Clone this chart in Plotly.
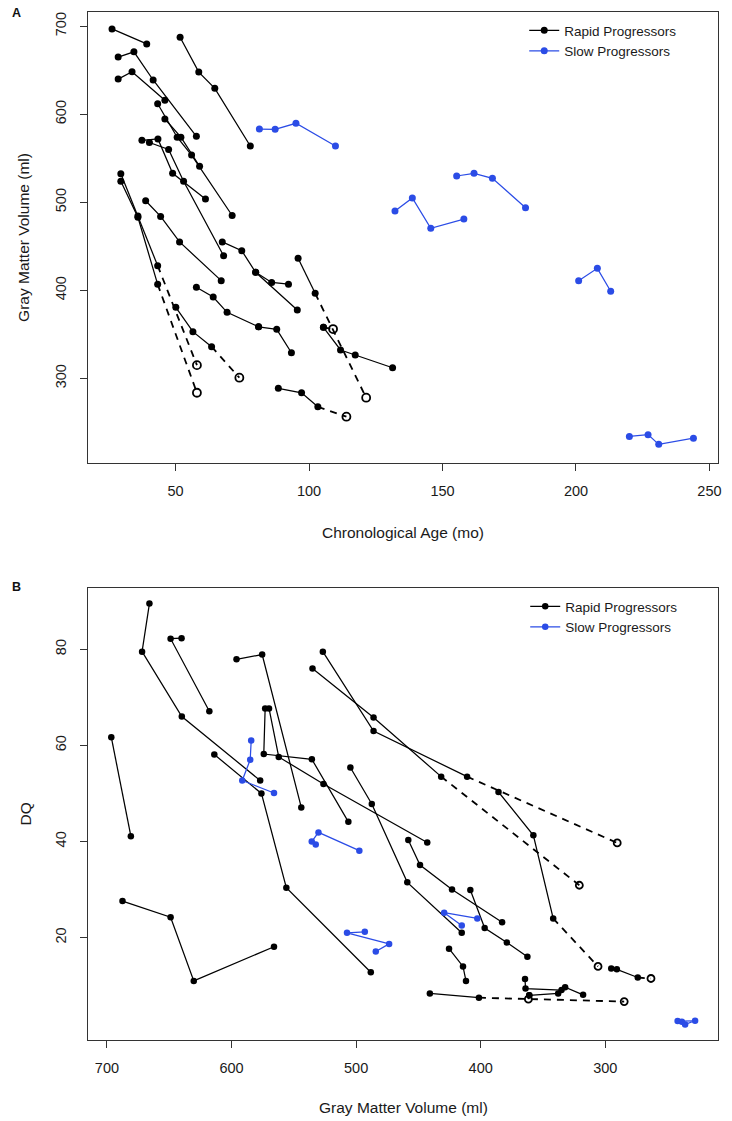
import plotly.graph_objects as go

# ---------------- Panel A : GMV vs chronological age ----------------
a_rapid_age = [
    [26.2, 39.2],
    [51.7, 58.7, 64.7, 78.0],
    [28.5, 34.4, 41.6, 57.8],
    [28.5, 33.7, 46.0],
    [46.0, 52.0, 59.0],
    [37.4, 43.4, 48.9, 61.2],
    [40.2, 47.4, 53.0, 68.0],
    [43.3, 50.6, 56.0, 71.2],
    [29.5, 35.9, 43.3],
    [29.5, 35.9, 43.3],
    [50.1, 56.5, 63.5],
    [95.9, 102.3],
    [88.5, 97.2, 103.3],
    [105.4],
    [38.8, 44.4, 51.5, 67.1],
    [67.5, 74.8, 80.0, 95.6],
    [57.8, 64.1, 69.3, 81.1],
    [80.0, 86.0, 92.3],
    [81.1, 87.9, 93.4],
    [105.4, 111.8, 117.3, 131.3],
]
a_rapid_gmv = [
    [697, 680],
    [687.5, 648, 629.5, 564],
    [665, 671, 639, 575],
    [640, 648.4, 616],
    [594.7, 574, 541],
    [570.5, 572, 533, 503.8],
    [568, 560, 524, 439.3],
    [612, 574, 553.7, 485],
    [524, 483, 406.8],
    [532.5, 484.5, 428],
    [380.7, 353, 336],
    [436.4, 396.6],
    [288.6, 283.6, 267.7],
    [358],
    [501.8, 484, 455, 411],
    [455, 445, 420.5, 377.6],
    [403.4, 392.4, 375, 358.6],
    [420.5, 409, 407],
    [358.6, 355.7, 329.1],
    [358, 332.2, 326.5, 312],
]
# imputed final visits (open circles, dashed)
a_imp_subject = [8, 9, 10, 11, 12, 13]
a_imp_age = [58.0, 58.0, 73.9, 121.4, 114.0, 109.0]
a_imp_gmv = [283.6, 315.0, 300.7, 278.0, 256.4, 356.0]

a_slow_age = [
    [81.4, 87.3, 95.1, 109.9],
    [132.2, 138.7, 145.6, 158.0],
    [155.3, 161.8, 168.7, 181.1],
    [201.0, 208.0, 213.0],
    [220.0, 227.0, 231.0, 244.0],
]
a_slow_gmv = [
    [583.3, 583.0, 589.8, 564.0],
    [490.0, 504.9, 470.5, 481.0],
    [529.9, 533.0, 527.3, 493.9],
    [411.0, 425.0, 399.0],
    [234.0, 236.0, 225.0, 232.0],
]

# ---------------- Panel B : DQ vs GMV ----------------
b_rapid_gmv = [
    [665.9, 671.8, 639.9, 577.0],
    [640.1, 648.9, 617.8],
    [596.0, 575.4, 544.0],
    [573.0, 574.1, 535.5, 506.2],
    [569.9, 562.1, 526.2, 442.9],
    [696.5, 680.8],
    [613.8, 576.0, 556.0, 488.2],
    [687.5, 648.9, 630.3, 565.9],
    [526.7, 486.0, 410.9],
    [535.0, 486.0, 431.7],
    [385.7, 357.7, 341.8],
    [440.8, 401.4],
    [295.2, 290.7, 273.9],
    [361.0],
    [504.6, 487.4, 458.9, 415.2],
    [458.1, 448.7, 423.0, 382.8],
    [408.3, 396.8, 379.0, 362.5],
    [425.4, 414.2, 411.8],
    [364.4, 364.0, 335.1],
    [361.0, 337.8, 332.2, 317.8],
]
b_rapid_dq = [
    [89.5, 79.5, 66.0, 52.7],
    [82.3, 82.2, 67.1],
    [77.9, 78.9, 47.1],
    [67.7, 58.2, 57.1, 44.1],
    [67.7, 57.6, 51.95, 39.8],
    [61.7, 41.1],
    [58.1, 50.0, 30.4, 12.8],
    [27.6, 24.25, 11.0, 18.1],
    [79.5, 63.0, 53.5],
    [76.0, 65.8, 53.5],
    [50.3, 41.3, 24.0],
    [8.4, 7.5],
    [13.6, 13.4, 11.7],
    [8.0],
    [55.4, 47.8, 31.5, 21.0],
    [40.3, 35.1, 30.0, 23.2],
    [29.9, 22.0, 19.0, 16.0],
    [17.7, 14.0, 11.0],
    [11.4, 9.4, 9.1],
    [8.0, 8.4, 9.7, 8.1],
]
b_imp_subject = [8, 9, 10, 11, 12, 13]
b_imp_gmv = [290.4, 320.8, 305.8, 284.8, 263.3, 361.7]
b_imp_dq = [39.7, 30.9, 14.0, 6.7, 11.5, 7.2]

b_slow_gmv = [
    [584.2, 585.0, 591.4, 565.9],
    [493.0, 507.3, 473.5, 484.2],
    [532.4, 535.6, 530.2, 497.4],
    [415.2, 429.3, 402.7],
    [238.5, 241.9, 227.9, 235.9],
]
b_slow_dq = [
    [61.0, 57.0, 52.7, 50.1],
    [21.2, 21.0, 18.7, 17.1],
    [39.4, 40.0, 41.9, 38.1],
    [22.5, 25.2, 24.0],
    [2.5, 2.65, 2.7, 1.95],
]

group_names = ["Rapid Progressors", "Slow Progressors"]
a_xticks = [50, 100, 150, 200, 250]
a_yticks = [300, 400, 500, 600, 700]
b_xticks = [300, 400, 500, 600, 700]
b_yticks = [20, 40, 60, 80]

BLACK = "#000000"
BLUE = "#2b4ce6"
FONT = "Liberation Sans, Arial, Helvetica, sans-serif"

fig = go.Figure()


def add_panel(xs, ys, color, name, xa, ya, legend, msize):
    for i, (x, y) in enumerate(zip(xs, ys)):
        fig.add_trace(go.Scatter(
            x=x, y=y, mode="lines+markers", xaxis=xa, yaxis=ya,
            line=dict(color=color, width=1.25),
            marker=dict(color=color, size=msize),
            name=name, legendgroup=name + legend, legend=legend,
            showlegend=(i == 0), hoverinfo="skip"))


def add_imputed(xs, ys, subj, ix, iy, xa, ya, osize):
    for s, px_, py_ in zip(subj, ix, iy):
        fig.add_trace(go.Scatter(
            x=[xs[s][-1], px_], y=[ys[s][-1], py_], mode="lines",
            xaxis=xa, yaxis=ya, showlegend=False, hoverinfo="skip",
            line=dict(color=BLACK, width=1.8, dash="7px,6px")))
    fig.add_trace(go.Scatter(
        x=ix, y=iy, mode="markers", xaxis=xa, yaxis=ya, showlegend=False,
        hoverinfo="skip",
        marker=dict(symbol="circle-open", color=BLACK, size=osize,
                    line=dict(width=1.8, color=BLACK))))


# Panel A
add_imputed(a_rapid_age, a_rapid_gmv, a_imp_subject, a_imp_age, a_imp_gmv, "x", "y", 8)
add_panel(a_rapid_age, a_rapid_gmv, BLACK, group_names[0], "x", "y", "legend", 7)
add_panel(a_slow_age, a_slow_gmv, BLUE, group_names[1], "x", "y", "legend", 7)
# Panel B
add_imputed(b_rapid_gmv, b_rapid_dq, b_imp_subject, b_imp_gmv, b_imp_dq, "x2", "y2", 7)
add_panel(b_rapid_gmv, b_rapid_dq, BLACK, group_names[0], "x2", "y2", "legend2", 6.5)
add_panel(b_slow_gmv, b_slow_dq, BLUE, group_names[1], "x2", "y2", "legend2", 6.5)

axis_common = dict(
    showline=True, mirror=True, linecolor="#333333", linewidth=1,
    ticks="outside", ticklen=7, tickwidth=1, tickcolor="#333333",
    showgrid=False, zeroline=False,
    tickfont=dict(family=FONT, size=14.5, color="#1a1a1a"),
)


# plot area: x 88..722 px, y 12..1040 px
def py(p):
    return (1040 - p) / 1028.0


def px(p):
    return (p - 88) / 634.0


fig.update_layout(
    width=732, height=1121,
    margin=dict(l=88, r=10, t=12, b=81),
    paper_bgcolor="white", plot_bgcolor="white",
    xaxis=dict(axis_common, domain=[0, 1], range=[17.2, 253.2], anchor="y",
               tickvals=a_xticks, ticklabelstandoff=8),
    yaxis=dict(axis_common, domain=[py(463), 1], range=[203.8, 716.25], anchor="x",
               tickvals=a_yticks, tickangle=-90, ticklabelstandoff=8),
    xaxis2=dict(axis_common, domain=[0, 1], range=[715.2, 209.5], anchor="y2",
                tickvals=b_xticks, ticklabelstandoff=8),
    yaxis2=dict(axis_common, domain=[0, py(588)], range=[-1.3, 92.75], anchor="x2",
                tickvals=b_yticks, tickangle=-90, ticklabelstandoff=8),
    legend=dict(x=px(527), y=py(15), xanchor="left", yanchor="top",
                bgcolor="rgba(0,0,0,0)", borderwidth=0, tracegroupgap=0,
                font=dict(family=FONT, size=13.5, color="#1a1a1a"), itemwidth=30),
    legend2=dict(x=px(528), y=py(591), xanchor="left", yanchor="top",
                 bgcolor="rgba(0,0,0,0)", borderwidth=0, tracegroupgap=0,
                 font=dict(family=FONT, size=13.5, color="#1a1a1a"), itemwidth=30),
    showlegend=True,
)

ann_font = dict(family=FONT, size=15.5, color="#1a1a1a")
annotations = [
    dict(text="Chronological Age (mo)", x=0.5, y=py(532), xref="paper", yref="paper",
         showarrow=False, font=ann_font, xanchor="center", yanchor="middle"),
    dict(text="Gray Matter Volume (ml)", x=px(23), y=py(237.5), xref="paper", yref="paper",
         showarrow=False, font=ann_font, textangle=-90, xanchor="center", yanchor="middle"),
    dict(text="Gray Matter Volume (ml)", x=0.5, y=py(1107), xref="paper", yref="paper",
         showarrow=False, font=ann_font, xanchor="center", yanchor="middle"),
    dict(text="DQ", x=px(25), y=py(814), xref="paper", yref="paper",
         showarrow=False, font=ann_font, textangle=-90, xanchor="center", yanchor="middle"),
    dict(text="<b>A</b>", x=px(16.5), y=py(13), xref="paper", yref="paper",
         showarrow=False, font=dict(family=FONT, size=12.5, color="#111"),
         xanchor="center", yanchor="middle"),
    dict(text="<b>B</b>", x=px(16.5), y=py(587), xref="paper", yref="paper",
         showarrow=False, font=dict(family=FONT, size=12.5, color="#111"),
         xanchor="center", yanchor="middle"),
]
fig.update_layout(annotations=annotations)

fig.write_html("out.html", config={"displayModeBar": False},
               post_script="document.body.style.margin='0';")
